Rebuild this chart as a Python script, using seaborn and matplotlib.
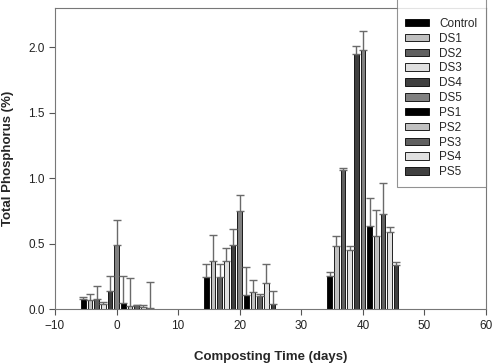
import numpy as np
import pandas as pd
import matplotlib
matplotlib.use('Agg')
import matplotlib.pyplot as plt
import seaborn as sns

# data
days = [0, 20, 40]
treatments = ['Control', 'DS1', 'DS2', 'DS3', 'DS4', 'DS5',
              'PS1', 'PS2', 'PS3', 'PS4', 'PS5']
day0 = [0.076, 0.069, 0.076, 0.038, 0.14, 0.489, 0.051, 0.028, 0.033, 0.02, 0.01]
day0_err = [0.021, 0.048, 0.102, 0.021, 0.117, 0.193, 0.206, 0.209, 0.004, 0.012, 0.198]
day20 = [0.25, 0.369, 0.25, 0.369, 0.489, 0.748, 0.112, 0.13, 0.099, 0.198, 0.04]
day20_err = [0.099, 0.198, 0.099, 0.102, 0.122, 0.127, 0.208, 0.097, 0.021, 0.151, 0.10]
day40 = [0.252, 0.481, 1.061, 0.453, 1.952, 1.977, 0.638, 0.56, 0.728, 0.59, 0.341]
day40_err = [0.03, 0.079, 0.015, 0.028, 0.056, 0.147, 0.209, 0.198, 0.239, 0.038, 0.018]

colors = ['#000000', '#c0c0c0', '#606060', '#e0e0e0', '#404040', '#808080',
          '#000000', '#c0c0c0', '#606060', '#e0e0e0', '#404040']

rows = []
for d, vals, errs in zip(days, [day0, day20, day40], [day0_err, day20_err, day40_err]):
    for t, v, e in zip(treatments, vals, errs):
        rows.append({'day': d, 'treatment': t, 'tp': v, 'err': e})
df = pd.DataFrame(rows)

sns.set_style('ticks')
plt.rcParams['font.family'] = ['Liberation Sans', 'DejaVu Sans']

fig, ax = plt.subplots(figsize=(5, 3.64), dpi=100)
fig.subplots_adjust(left=0.11, right=0.972, top=0.978, bottom=0.15)

sns.barplot(data=df, x='day', y='tp', hue='treatment', hue_order=treatments,
            palette=colors, native_scale=True, width=0.595, gap=0.3,
            saturation=1, errorbar=None, edgecolor='black', linewidth=0.6,
            ax=ax, legend=True)

# one-sided error bars on top of every bar
for t, cont in zip(treatments, ax.containers):
    sub = df[df['treatment'] == t]
    xs = [p.get_x() + p.get_width() / 2 for p in cont.patches]
    hs = [p.get_height() for p in cont.patches]
    ax.errorbar(xs, hs, yerr=[np.zeros(len(sub)), sub['err'].values],
                fmt='none', ecolor='#6a6a6a', elinewidth=1, capsize=3.2,
                capthick=1, zorder=1)

ax.set_xlim(-10, 60)
ax.set_ylim(0, 2.3)
ax.set_xticks([-10, 0, 10, 20, 30, 40, 50, 60])
ax.set_yticks([0.0, 0.5, 1.0, 1.5, 2.0])
ax.set_yticklabels(['0.0', '0.5', '1.0', '1.5', '2.0'])
ax.tick_params(labelsize=8.5, length=4, width=0.8, color='#555555', labelcolor='#222222')
for s in ax.spines.values():
    s.set_color('#777777')
    s.set_linewidth(0.8)

ax.set_xlabel('Composting Time (days)', fontsize=9.5, fontweight='bold', labelpad=14)
ax.set_ylabel('Total Phosphorus (%)', fontsize=9.5, fontweight='bold', labelpad=10)

# legend box: right edge on the axes' right spine, top running off the figure
handles, labels = ax.get_legend_handles_labels()
leg = ax.legend(handles, labels, loc='lower right', bbox_to_anchor=(1.0, 0.406),
                fontsize=8.5, frameon=True, fancybox=False, handlelength=2.0,
                handleheight=0.6, labelspacing=0.24, borderpad=0.75,
                handletextpad=0.85, borderaxespad=0, title=' ', title_fontsize=14)
leg.get_frame().set_edgecolor('#777777')
leg.get_frame().set_linewidth(0.8)
leg.set_clip_on(False)

fig.savefig('out.png', dpi=100)
